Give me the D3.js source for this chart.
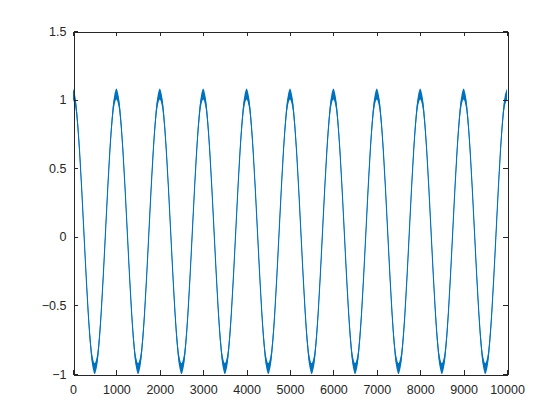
<!DOCTYPE html>
<html>
<head>
<meta charset="utf-8">
<script src="https://cdn.jsdelivr.net/npm/d3@7"></script>
<style>
  body { margin: 0; background: #fff; }
  svg { display: block; font-family: "Liberation Sans", Arial, sans-serif; }
</style>
</head>
<body>
<svg id="chart" width="560" height="420"></svg>
<script>
// samples, every 50 units of x
const sampleStep = 50
const signal = [
  1.04, 0.99, 0.85, 0.63, 0.35, 0.04, -0.27, -0.55, -0.77, -0.91, -0.96, -0.91, -0.77, -0.55, -0.27, 0.04, 0.35, 0.63, 0.85, 0.99,
  1.04, 0.99, 0.85, 0.63, 0.35, 0.04, -0.27, -0.55, -0.77, -0.91, -0.96, -0.91, -0.77, -0.55, -0.27, 0.04, 0.35, 0.63, 0.85, 0.99,
  1.04, 0.99, 0.85, 0.63, 0.35, 0.04, -0.27, -0.55, -0.77, -0.91, -0.96, -0.91, -0.77, -0.55, -0.27, 0.04, 0.35, 0.63, 0.85, 0.99,
  1.04, 0.99, 0.85, 0.63, 0.35, 0.04, -0.27, -0.55, -0.77, -0.91, -0.96, -0.91, -0.77, -0.55, -0.27, 0.04, 0.35, 0.63, 0.85, 0.99,
  1.04, 0.99, 0.85, 0.63, 0.35, 0.04, -0.27, -0.55, -0.77, -0.91, -0.96, -0.91, -0.77, -0.55, -0.27, 0.04, 0.35, 0.63, 0.85, 0.99,
  1.04, 0.99, 0.85, 0.63, 0.35, 0.04, -0.27, -0.55, -0.77, -0.91, -0.96, -0.91, -0.77, -0.55, -0.27, 0.04, 0.35, 0.63, 0.85, 0.99,
  1.04, 0.99, 0.85, 0.63, 0.35, 0.04, -0.27, -0.55, -0.77, -0.91, -0.96, -0.91, -0.77, -0.55, -0.27, 0.04, 0.35, 0.63, 0.85, 0.99,
  1.04, 0.99, 0.85, 0.63, 0.35, 0.04, -0.27, -0.55, -0.77, -0.91, -0.96, -0.91, -0.77, -0.55, -0.27, 0.04, 0.35, 0.63, 0.85, 0.99,
  1.04, 0.99, 0.85, 0.63, 0.35, 0.04, -0.27, -0.55, -0.77, -0.91, -0.96, -0.91, -0.77, -0.55, -0.27, 0.04, 0.35, 0.63, 0.85, 0.99,
  1.04, 0.99, 0.85, 0.63, 0.35, 0.04, -0.27, -0.55, -0.77, -0.91, -0.96, -0.91, -0.77, -0.55, -0.27, 0.04, 0.35, 0.63, 0.85, 0.99,
  1.04
]
// half height of the noisy band around the signal
const noiseHalf = 0.04
const xTicks = [0, 1000, 2000, 3000, 4000, 5000, 6000, 7000, 8000, 9000, 10000]
const yTicks = [-1, -0.5, 0, 0.5, 1, 1.5]

const svg = d3.select('#chart')
const plot = { left: 73, right: 507, top: 31, bottom: 374 }
const axisColor = '#262626'
const lineColor = '#0072bd'
const tickLen = 4.5

const x = d3.scaleLinear().domain([0, 10000]).range([plot.left, plot.right])
const y = d3.scaleLinear().domain([-1, 1.5]).range([plot.bottom, plot.top])

const points = signal.map((v, i) => ({ x: i * sampleStep, v }))

svg.append('defs').append('clipPath').attr('id', 'clip')
  .append('rect')
  .attr('x', plot.left).attr('y', plot.top)
  .attr('width', plot.right - plot.left).attr('height', plot.bottom - plot.top)

const g = svg.append('g').attr('clip-path', 'url(#clip)')

// noise band
const area = d3.area()
  .x(d => x(d.x))
  .y0(d => y(d.v - noiseHalf))
  .y1(d => y(d.v + noiseHalf))
  .curve(d3.curveCatmullRom)
g.append('path').datum(points)
  .attr('d', area)
  .attr('fill', lineColor)

const line = d3.line()
  .x(d => x(d.x))
  .y(d => y(d.v))
  .curve(d3.curveCatmullRom)
g.append('path').datum(points)
  .attr('d', line)
  .attr('fill', 'none')
  .attr('stroke', lineColor)
  .attr('stroke-width', 1.1)

// axes: ticks inside on all four sides, box on
const drawAxis = (axis, transform) => svg.append('g')
  .attr('transform', transform)
  .call(axis)
  .call(s => s.select('.domain').attr('stroke', axisColor).attr('shape-rendering', 'crispEdges'))
  .call(s => s.selectAll('.tick line').attr('stroke', axisColor).attr('shape-rendering', 'crispEdges'))

drawAxis(d3.axisBottom(x).tickValues(xTicks).tickSizeInner(-tickLen).tickSizeOuter(0).tickPadding(11).tickFormat(d3.format('d')),
  `translate(0,${plot.bottom + 0.5})`)
  .call(s => s.selectAll('.tick text').attr('fill', axisColor).style('font-size', '12.5px'))
drawAxis(d3.axisTop(x).tickValues(xTicks).tickSizeInner(-tickLen).tickSizeOuter(0).tickFormat(''),
  `translate(0,${plot.top + 0.5})`)
drawAxis(d3.axisLeft(y).tickValues(yTicks).tickSizeInner(-tickLen).tickSizeOuter(0).tickPadding(7).tickFormat(d3.format('')),
  `translate(${plot.left + 0.5},0)`)
  .call(s => s.selectAll('.tick text').attr('fill', axisColor).style('font-size', '12.5px'))
drawAxis(d3.axisRight(y).tickValues(yTicks).tickSizeInner(-tickLen).tickSizeOuter(0).tickFormat(''),
  `translate(${plot.right + 0.5},0)`)

svg.selectAll('g').attr('font-family', null)
</script>
</body>
</html>
